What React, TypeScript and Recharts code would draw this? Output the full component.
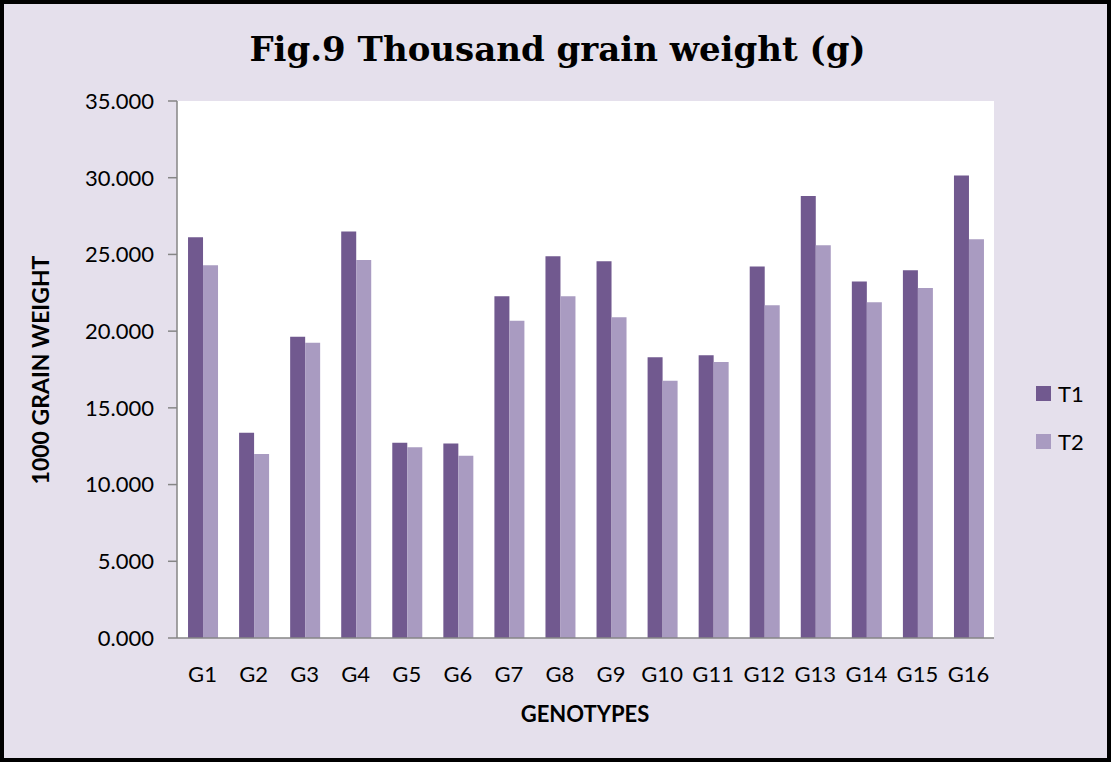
import React from 'react';
import { BarChart, Bar, XAxis, YAxis } from 'recharts';

const categories = ['G1','G2','G3','G4','G5','G6','G7','G8','G9','G10','G11','G12','G13','G14','G15','G16'];
const t1 = [26.12, 13.38, 19.64, 26.5, 12.72, 12.68, 22.28, 24.88, 24.56, 18.3, 18.43, 24.22, 28.81, 23.23, 23.97, 30.14];
const t2 = [24.3, 12.0, 19.25, 24.64, 12.43, 11.88, 20.67, 22.28, 20.9, 16.77, 17.99, 21.69, 25.6, 21.88, 22.82, 25.99];
const yTicks = [0, 5, 10, 15, 20, 25, 30, 35];
const seriesNames = ['T1', 'T2'];
const seriesColors = ['#71598F', '#A99BC1'];

const data = categories.map((c, i) => ({ name: c, T1: t1[i], T2: t2[i] }));

const FONT = 'Lato, "Open Sans", sans-serif';

export default function App() {
  return (
    <div style={{ position: 'absolute', left: 0, top: 0, width: 1111, height: 762, background: '#E5E0EC', boxSizing: 'border-box', border: '4px solid #000', overflow: 'hidden' }}>
      <div style={{ position: 'absolute', left: -4, top: -4 }}>
        <BarChart width={1111} height={762} data={data} margin={{ top: 101, right: 117, bottom: 64, left: 77 }} barCategoryGap="21.6%" barGap={0}>
          <rect x={177} y={101} width={817} height={537} fill="#FFFFFF" />
          <XAxis dataKey="name" height={60} tickLine={false} axisLine={{ stroke: '#868686', strokeWidth: 1.5 }} tickMargin={22} tick={{ fill: '#000', fontSize: 22, fontFamily: FONT }} interval={0} />
          <YAxis width={100} domain={[0, 35]} ticks={yTicks} tickFormatter={(v) => Number(v).toFixed(3)} tickSize={9} tickMargin={14} axisLine={{ stroke: '#868686', strokeWidth: 1.5 }} tickLine={{ stroke: '#868686', strokeWidth: 1.5 }} tick={{ fill: '#000', fontSize: 22, fontFamily: FONT }} />
          <Bar dataKey="T1" fill={seriesColors[0]} isAnimationActive={false} />
          <Bar dataKey="T2" fill={seriesColors[1]} isAnimationActive={false} />
        </BarChart>
        <div style={{ position: 'absolute', left: 2, top: 29, width: 1111, textAlign: 'center', fontFamily: '"DejaVu Serif", serif', fontWeight: 'bold', fontSize: 34, color: '#000', whiteSpace: 'nowrap' }}>
          Fig.9 Thousand grain weight (g)
        </div>
        <div style={{ position: 'absolute', left: 385, width: 400, top: 700, textAlign: 'center', fontFamily: FONT, fontWeight: 'bold', fontSize: 22, color: '#000' }}>
          GENOTYPES
        </div>
        <div style={{ position: 'absolute', left: 40 - 200, top: 370 - 15, width: 400, height: 30, lineHeight: '30px', textAlign: 'center', transform: 'rotate(-90deg)', fontFamily: FONT, fontWeight: 'bold', fontSize: 23, color: '#000', whiteSpace: 'nowrap' }}>
          1000 GRAIN WEIGHT
        </div>
        {seriesNames.map((n, i) => (
          <div key={n} style={{ position: 'absolute', left: 1036, top: 381 + i * 48, height: 24, display: 'flex', alignItems: 'center', fontFamily: FONT, fontSize: 22, color: '#000' }}>
            <span style={{ display: 'inline-block', width: 15, height: 15, background: seriesColors[i], marginRight: 7 }} />
            {n}
          </div>
        ))}
      </div>
    </div>
  );
}
